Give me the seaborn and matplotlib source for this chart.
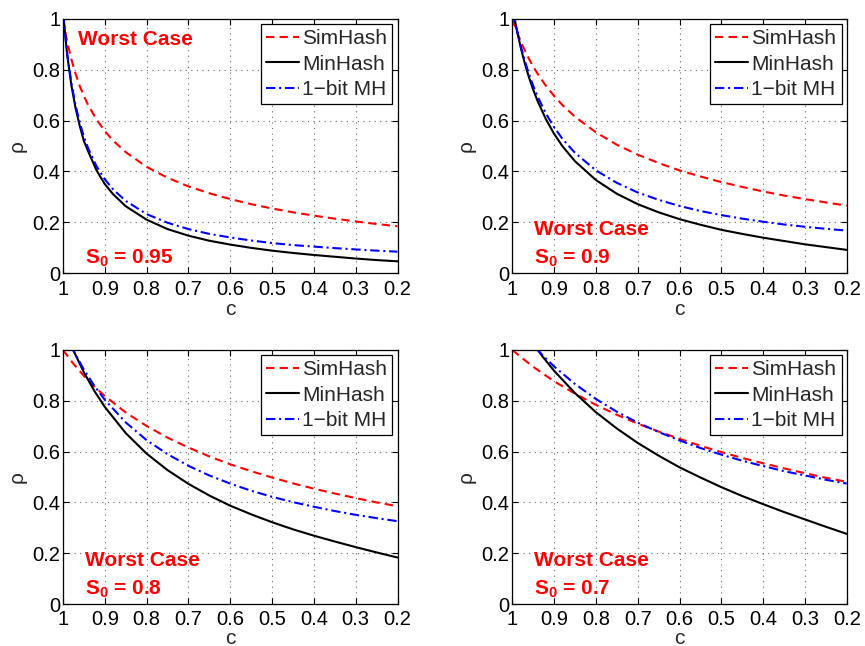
import matplotlib
matplotlib.use("Agg")
import matplotlib.pyplot as plt
import seaborn as sns

# ---------------- data ----------------
c_fine = [1.0, 0.99, 0.98, 0.97, 0.96, 0.95, 0.94, 0.92, 0.9, 0.88, 0.85, 0.8,
          0.75, 0.7, 0.65, 0.6, 0.55, 0.5, 0.45, 0.4, 0.35, 0.3, 0.25, 0.2]
c_coarse = [1.0, 0.975, 0.95, 0.925, 0.9, 0.85, 0.8, 0.75, 0.7, 0.65, 0.6,
            0.55, 0.5, 0.45, 0.4, 0.35, 0.3, 0.25, 0.2]

simhash_095 = [1.0, 0.911, 0.842, 0.785, 0.737, 0.697, 0.662, 0.605, 0.559, 0.521, 0.476, 0.418,
               0.375, 0.341, 0.314, 0.291, 0.271, 0.254, 0.239, 0.226, 0.214, 0.203, 0.193, 0.184]
minhash_095 = [1.03, 0.86, 0.74, 0.65, 0.58, 0.52, 0.48, 0.405, 0.35, 0.31, 0.263, 0.21,
               0.173, 0.147, 0.127, 0.112, 0.099, 0.088, 0.079, 0.071, 0.064, 0.057, 0.051, 0.046]
onebit_095 = [1.02, 0.865, 0.749, 0.661, 0.592, 0.537, 0.492, 0.421, 0.369, 0.329, 0.284, 0.232,
              0.198, 0.173, 0.154, 0.140, 0.128, 0.118, 0.110, 0.104, 0.098, 0.093, 0.088, 0.084]

simhash_09 = [1.0, 0.954, 0.913, 0.876, 0.843, 0.813, 0.786, 0.738, 0.697, 0.661, 0.615, 0.554,
              0.505, 0.466, 0.433, 0.404, 0.380, 0.358, 0.339, 0.321, 0.305, 0.291, 0.278, 0.265]
minhash_09 = [1.05, 0.963, 0.889, 0.825, 0.770, 0.722, 0.679, 0.607, 0.548, 0.499, 0.440, 0.366,
              0.312, 0.271, 0.239, 0.212, 0.190, 0.170, 0.154, 0.139, 0.126, 0.113, 0.102, 0.091]
onebit_09 = [1.047, 0.965, 0.895, 0.835, 0.783, 0.737, 0.697, 0.629, 0.574, 0.528, 0.473, 0.404,
             0.355, 0.317, 0.288, 0.264, 0.244, 0.228, 0.214, 0.202, 0.191, 0.182, 0.174, 0.167]

simhash_08 = [1.0, 0.946, 0.898, 0.856, 0.819, 0.754, 0.701, 0.655, 0.616, 0.581, 0.550,
              0.523, 0.498, 0.475, 0.454, 0.435, 0.417, 0.400, 0.385]
minhash_08 = [1.10, 0.998, 0.912, 0.839, 0.776, 0.673, 0.592, 0.527, 0.473, 0.427, 0.387,
              0.353, 0.322, 0.294, 0.269, 0.246, 0.224, 0.203, 0.183]
onebit_08 = [1.089, 0.998, 0.923, 0.859, 0.804, 0.715, 0.645, 0.590, 0.544, 0.506, 0.474,
             0.446, 0.422, 0.401, 0.383, 0.366, 0.351, 0.338, 0.326]

simhash_07 = [1.0, 0.966, 0.934, 0.905, 0.877, 0.828, 0.784, 0.745, 0.710, 0.679, 0.650,
              0.623, 0.598, 0.575, 0.554, 0.534, 0.515, 0.497, 0.481]
minhash_07 = [1.152, 1.085, 1.024, 0.969, 0.918, 0.830, 0.755, 0.691, 0.634, 0.584, 0.538,
              0.498, 0.460, 0.425, 0.393, 0.362, 0.333, 0.304, 0.276]
onebit_07 = [1.122, 1.068, 1.019, 0.975, 0.935, 0.866, 0.807, 0.757, 0.714, 0.677, 0.644,
             0.614, 0.588, 0.564, 0.543, 0.523, 0.506, 0.489, 0.474]

s0_labels = ["0.95", "0.9", "0.8", "0.7"]
series_names = ["SimHash", "MinHash", "1\u2212bit MH"]
x_ticks = [1, 0.9, 0.8, 0.7, 0.6, 0.5, 0.4, 0.3, 0.2]
x_tick_labels = ["1", "0.9", "0.8", "0.7", "0.6", "0.5", "0.4", "0.3", "0.2"]
y_ticks = [0, 0.2, 0.4, 0.6, 0.8, 1]
y_tick_labels = ["0", "0.2", "0.4", "0.6", "0.8", "1"]

panels = [
    (c_fine, simhash_095, minhash_095, onebit_095),
    (c_fine, simhash_09, minhash_09, onebit_09),
    (c_coarse, simhash_08, minhash_08, onebit_08),
    (c_coarse, simhash_07, minhash_07, onebit_07),
]

# ---------------- style ----------------
sns.set_style("ticks")
plt.rcParams["font.family"] = ["Liberation Sans", "DejaVu Sans"]
plt.rcParams["mathtext.fontset"] = "custom"
plt.rcParams["mathtext.rm"] = "Liberation Sans"
plt.rcParams["mathtext.bf"] = "Liberation Sans:bold"
plt.rcParams["axes.edgecolor"] = "black"
plt.rcParams["xtick.color"] = "black"
plt.rcParams["ytick.color"] = "black"

fig, axes = plt.subplots(2, 2, figsize=(8.65, 6.46), dpi=100)
fig.subplots_adjust(left=0.0728, right=0.979, top=0.9706, bottom=0.065,
                    wspace=0.343, hspace=0.303)

styles = [
    dict(color=(1, 0, 0), dashes=(4, 2.5)),
    dict(color="black"),
    dict(color=(0, 0, 1), dashes=(4.5, 1.8, 1.0, 1.8)),
]

for i, (ax, (cx, sim, mh, ob)) in enumerate(zip(axes.flat, panels)):
    for name, vals, st in zip(series_names, [sim, mh, ob], styles):
        sns.lineplot(x=cx, y=vals, ax=ax, label=name, sort=False,
                     color=st["color"], linewidth=1.5)
        ln = ax.lines[-1]
        if "dashes" in st:
            ln.set_dashes(st["dashes"])
    ax.set_xlim(1, 0.2)
    ax.set_ylim(0, 1)
    ax.set_xticks(x_ticks)
    ax.set_xticklabels(x_tick_labels)
    ax.set_yticks(y_ticks)
    ax.set_yticklabels(y_tick_labels)
    ax.tick_params(direction="in", length=4, width=0.8, top=True, right=True,
                   labelsize=14.5)
    ax.tick_params(axis="x", pad=(5 if i < 2 else 4))
    ax.tick_params(axis="y", pad=2)
    ax.grid(True, linestyle=(0, (1, 4)), color="0.4", linewidth=0.8)
    ax.set_axisbelow(True)
    for sp in ax.spines.values():
        sp.set_visible(True)
        sp.set_linewidth(0.9)
        sp.set_color("black")
    ax.set_xlabel("c", fontsize=15, labelpad=(1 if i < 2 else 0))
    ax.set_ylabel("\u03c1", fontsize=15, labelpad=4)

    leg = ax.legend(loc="upper right", frameon=True, fancybox=False, framealpha=1,
                    edgecolor="black", fontsize=15, handlelength=1.58,
                    handletextpad=0.15, borderaxespad=0.25, labelspacing=0.3,
                    borderpad=0.25)
    leg.get_frame().set_linewidth(0.9)
    for h, st in zip(leg.get_lines(), styles):
        if "dashes" in st:
            h.set_dashes(st["dashes"])

    red = (1, 0, 0)
    if i == 0:
        ax.text(0.964, 0.898, "Worst Case", color=red, fontsize=15,
                fontweight="bold", ha="left", va="baseline")
    else:
        ax.text(0.947, 0.150, "Worst Case", color=red, fontsize=15,
                fontweight="bold", ha="left", va="baseline")
    ax.text(0.947, 0.038, r"$\mathbf{S_0}$ = " + s0_labels[i], color=red,
            fontsize=15, fontweight="bold", ha="left", va="baseline")

fig.savefig("out.png", dpi=100)
